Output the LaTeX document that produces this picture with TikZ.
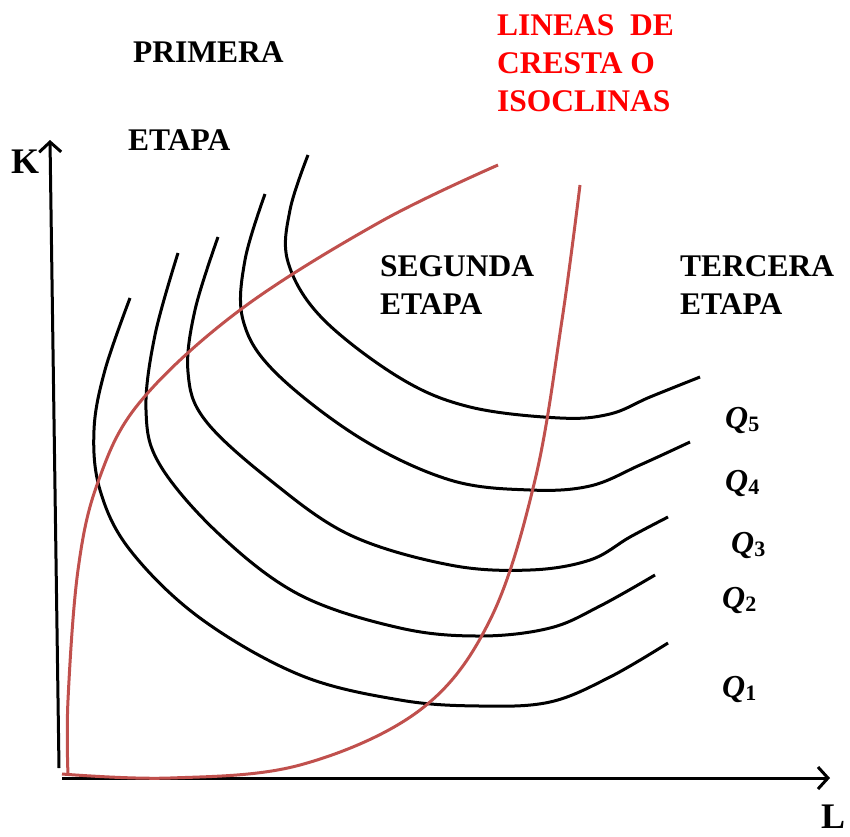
\documentclass[tikz,border=0pt]{standalone}
\usepackage{fontspec}
\setmainfont{Liberation Serif}
\usetikzlibrary{arrows.meta}
\definecolor{ridge}{RGB}{192,80,77}
\definecolor{redtxt}{RGB}{255,0,0}
\tikzset{
  axis/.style={line width=3pt, -{Straight Barb[length=10pt,width=22pt,line width=3pt]}},
  iso/.style={line width=3pt, black, smooth, tension=0.6},
  ridgeline/.style={line width=3pt, ridge, smooth, tension=0.6},
  lbl/.style={font=\fontsize{31.5}{38}\selectfont\bfseries, inner sep=0pt},
  axlbl/.style={font=\fontsize{36}{38}\selectfont\bfseries, inner sep=0pt},
  qlbl/.style={font=\fontsize{32}{34}\selectfont\bfseries\itshape, inner sep=0pt}
}
\newcommand{\qq}[1]{Q\raisebox{-0.12em}{\fontsize{22}{22}\selectfont\upshape\bfseries #1}}
\begin{document}
\begin{tikzpicture}[x=1pt,y=-1pt]
\useasboundingbox (0,0) rectangle (850,836);
% axes
\coordinate (o1) at (59,768);
\coordinate (ktop) at (50,140);
\coordinate (o2) at (62,778);
\coordinate (lend) at (830,778);
\draw[axis] (o1) -- (ktop);
\draw[axis] (o2) -- (lend);
% isoquants
\draw[iso] plot coordinates {(130,298) (105,370) (94,430) (100,490) (130,550) (200,618) (300,675) (400,700) (480,706) (550,702) (610,677) (668,643)};
\draw[iso] plot coordinates {(178,253) (155,335) (146,410) (160,465) (220,535) (300,595) (400,628) (480,636) (550,628) (600,606) (655,575)};
\draw[iso] plot coordinates {(218,237) (195,310) (188,372) (205,420) (270,480) (350,535) (450,565) (530,570) (590,560) (630,537) (668,517)};
\draw[iso] plot coordinates {(265,194) (245,260) (243,320) (275,372) (360,438) (450,480) (530,490) (590,486) (640,465) (690,442)};
\draw[iso] plot coordinates {(308,155) (290,210) (288,262) (322,318) (400,378) (470,407) (560,418) (610,414) (650,397) (700,377)};
% ridge lines
\draw[ridgeline] plot coordinates {(68,775) (68,700) (78,570) (98,482) (140,402) (240,310) (380,222) (498,165)};
\draw[ridgeline] plot coordinates {(62,774) (170,778) (300,765) (420,710) (490,620) (535,480) (562,320) (580,185)};
% labels
\node[lbl, anchor=west] (prim) at (133,52) {PRIMERA};
\node[lbl, anchor=west] (et1) at (128,140) {ETAPA};
\node[lbl, anchor=north west, align=left] (seg) at (380,255) {SEGUNDA\\ETAPA};
\node[lbl, anchor=north west, align=left] (ter) at (680,255) {TERCERA\\ETAPA};
\node[lbl, anchor=north west, align=left, text=redtxt] (lin) at (497,14) {LINEAS\ \ DE\\CRESTA O\\ISOCLINAS};
\node[axlbl, anchor=base west] (k) at (11,173) {K};
\node[axlbl, anchor=base west] (l) at (821,828) {L};
\node[qlbl, anchor=west] (q5) at (725,420) {\qq{5}};
\node[qlbl, anchor=west] (q4) at (725,483) {\qq{4}};
\node[qlbl, anchor=west] (q3) at (731,545) {\qq{3}};
\node[qlbl, anchor=west] (q2) at (722,600) {\qq{2}};
\node[qlbl, anchor=west] (q1) at (722,689) {\qq{1}};
\end{tikzpicture}
\end{document}
